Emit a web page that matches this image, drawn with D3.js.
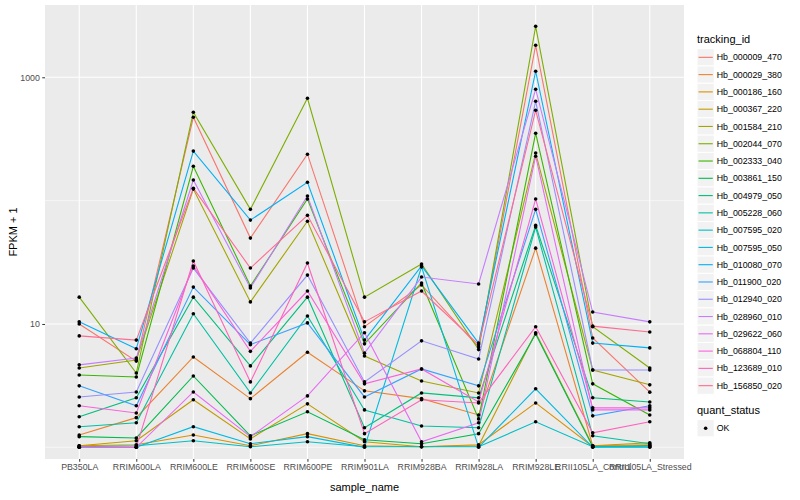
<!DOCTYPE html>
<html>
<head>
<meta charset="utf-8">
<script src="https://cdn.jsdelivr.net/npm/d3@7"></script>
<style>
  body { margin: 0; background: #ffffff; }
  text { font-family: "Liberation Sans", Arial, Helvetica, sans-serif; }
</style>
</head>
<body>
<svg></svg>
<script>
// categories on the x axis
var samples = ["PB350LA", "RRIM600LA", "RRIM600LE", "RRIM600SE", "RRIM600PE",
  "RRIM901LA", "RRIM928BA", "RRIM928LA", "RRIM928LE", "RRII105LA_Control", "RRII105LA_Stressed"];

var trackingIds = ["Hb_000009_470", "Hb_000029_380", "Hb_000186_160", "Hb_000367_220",
  "Hb_001584_210", "Hb_002044_070", "Hb_002333_040", "Hb_003861_150", "Hb_004979_050",
  "Hb_005228_060", "Hb_007595_020", "Hb_007595_050", "Hb_010080_070", "Hb_011900_020",
  "Hb_012940_020", "Hb_028960_010", "Hb_029622_060", "Hb_068804_110", "Hb_123689_010",
  "Hb_156850_020"];

// FPKM + 1, one value per sample
var hb000009_470 = [10, 5.0, 474, 49.7, 238, 9.5, 20.7, 6.5, 1816, 7.7, 2.8];
var hb000029_380 = [1.26, 1.74, 5.4, 2.48, 5.9, 2.87, 2.48, 1.83, 41.2, 1.03, 1.05];
var hb000186_160 = [1.03, 1.05, 1.26, 1.03, 1.29, 1.03, 1.01, 1.05, 2.29, 1.01, 1.03];
var hb000367_220 = [1.03, 1.13, 2.43, 1.17, 2.25, 1.11, 1.01, 1.03, 8.5, 1.03, 1.09];
var hb001584_210 = [4.4, 5.1, 124, 15.1, 68, 5.5, 3.45, 2.76, 243, 4.24, 3.21];
var hb002044_070 = [16.5, 4.0, 521, 85, 676, 16.5, 30.6, 6.2, 2588, 9.5, 4.4];
var hb002333_040 = [3.86, 3.72, 190, 20.3, 103, 6.9, 21.5, 1.70, 352, 3.27, 1.83];
var hb003861_150 = [1.22, 1.19, 3.79, 1.24, 1.94, 1.15, 1.07, 1.29, 8.3, 1.01, 1.03];
var hb004979_050 = [1.77, 2.52, 16.5, 4.57, 16.5, 1.44, 2.76, 2.52, 63, 2.52, 2.33];
var hb005228_060 = [1.47, 1.58, 12.1, 2.76, 11.6, 2.01, 1.49, 1.44, 61, 1.24, 1.07];
var hb007595_020 = [1.01, 1.03, 1.13, 1.01, 1.11, 1.01, 1.01, 1.01, 1.61, 1.01, 1.01];
var hb007595_050 = [1.0, 1.0, 1.47, 1.07, 1.22, 1.0, 29, 1.0, 2.98, 1.0, 1.0];
var hb010080_070 = [10.4, 6.3, 252, 69.5, 141, 7.4, 29.5, 7.0, 1119, 7.0, 6.4];
var hb011900_020 = [3.15, 2.17, 19.9, 6.8, 10.2, 2.56, 4.32, 3.15, 85, 1.80, 2.17];
var hb012940_020 = [2.56, 2.81, 28.4, 7.0, 24.9, 3.39, 7.3, 5.2, 639, 4.24, 4.24];
var hb028960_010 = [4.66, 5.3, 147, 19.6, 109, 5.8, 24, 21.1, 800, 12.5, 10.4];
var hb029622_060 = [1.0, 1.0, 2.81, 1.22, 2.61, 8.5, 1.11, 1.58, 229, 2.01, 2.01];
var hb068804_110 = [2.17, 1.90, 29.5, 6.0, 18.5, 3.27, 4.32, 2.33, 103, 2.09, 2.09];
var hb123689_010 = [1.0, 1.0, 32.4, 3.39, 31.2, 1.29, 2.43, 2.29, 9.5, 1.31, 1.61];
var hb156850_020 = [8.0, 7.4, 126, 28.4, 76, 10.4, 18.5, 6.8, 540, 9.6, 8.6];

var seriesValues = [hb000009_470, hb000029_380, hb000186_160, hb000367_220, hb001584_210,
  hb002044_070, hb002333_040, hb003861_150, hb004979_050, hb005228_060, hb007595_020,
  hb007595_050, hb010080_070, hb011900_020, hb012940_020, hb028960_010, hb029622_060,
  hb068804_110, hb123689_010, hb156850_020];

var yTicks = [10, 1000];
var yMinorTicks = [1, 100];
var quantStatus = ["OK"];

// ggplot default hue palette for 20 groups
var hueColours = ["#F8766D", "#EA8331", "#D89000", "#C09B00", "#A3A500", "#7CAE00", "#39B600",
  "#00BB4E", "#00BF7D", "#00C1A3", "#00BFC4", "#00BAE0", "#00B0F6", "#35A2FF", "#9590FF",
  "#C77CFF", "#E76BF3", "#FA62DB", "#FF62BC", "#FF6C91"];

var screen = { width: 800, height: 500 };
var panel = { left: 45, right: 684, top: 5, bottom: 459 };

var svg = d3.select("svg").attr("width", screen.width).attr("height", screen.height);

var xScale = d3.scalePoint().domain(samples).range([panel.left, panel.right]).padding(0.6);
var yScale = d3.scaleLog().domain([0.804, 3855]).range([panel.bottom, panel.top]);
var colourScale = d3.scaleOrdinal().domain(trackingIds).range(hueColours);

// panel background and grid
svg.append("rect")
  .attr("x", panel.left).attr("y", panel.top)
  .attr("width", panel.right - panel.left).attr("height", panel.bottom - panel.top)
  .attr("fill", "#EBEBEB");

var grid = svg.append("g").attr("class", "grid").attr("stroke", "#ffffff");
grid.selectAll("line.minor").data(yMinorTicks).enter().append("line")
  .attr("class", "minor")
  .attr("x1", panel.left).attr("x2", panel.right)
  .attr("y1", function (d) { return yScale(d); })
  .attr("y2", function (d) { return yScale(d); })
  .attr("stroke-width", 0.55);
grid.selectAll("line.majory").data(yTicks).enter().append("line")
  .attr("class", "majory")
  .attr("x1", panel.left).attr("x2", panel.right)
  .attr("y1", function (d) { return yScale(d); })
  .attr("y2", function (d) { return yScale(d); })
  .attr("stroke-width", 1.1);
grid.selectAll("line.majorx").data(samples).enter().append("line")
  .attr("class", "majorx")
  .attr("y1", panel.top).attr("y2", panel.bottom)
  .attr("x1", function (d) { return xScale(d); })
  .attr("x2", function (d) { return xScale(d); })
  .attr("stroke-width", 1.1);

// lines, one per tracking id
var line = d3.line()
  .x(function (d, i) { return xScale(samples[i]); })
  .y(function (d) { return yScale(d); });

svg.append("g").attr("class", "lines")
  .selectAll("path").data(seriesValues).enter().append("path")
  .attr("d", line)
  .attr("fill", "none")
  .attr("stroke", function (d, i) { return colourScale(trackingIds[i]); })
  .attr("stroke-width", 1.1);

// black points on top
var points = [];
seriesValues.forEach(function (vals) {
  vals.forEach(function (v, i) { points.push({ sample: samples[i], value: v }); });
});
svg.append("g").attr("class", "points")
  .selectAll("circle").data(points).enter().append("circle")
  .attr("cx", function (d) { return xScale(d.sample); })
  .attr("cy", function (d) { return yScale(d.value); })
  .attr("r", 1.8)
  .attr("fill", "#000000");

// axes
var styleAxis = function (g) {
  g.select(".domain").remove();
  g.selectAll(".tick line").attr("stroke", "#333333").attr("stroke-width", 1);
  g.selectAll(".tick text").attr("fill", "#4D4D4D").style("font-size", "8.8px")
    .style("font-family", "'Liberation Sans', Arial, sans-serif");
};

svg.append("g")
  .attr("transform", "translate(0," + panel.bottom + ")")
  .call(d3.axisBottom(xScale).tickSize(2.75).tickPadding(2.4))
  .call(styleAxis);

svg.append("g")
  .attr("transform", "translate(" + panel.left + ",0)")
  .call(d3.axisLeft(yScale).tickValues(yTicks).tickSize(2.75).tickPadding(2.4)
    .tickFormat(d3.format("d")))
  .call(styleAxis);

// axis titles
svg.append("text")
  .attr("x", (panel.left + panel.right) / 2).attr("y", 491)
  .attr("text-anchor", "middle").style("font-size", "11px")
  .text("sample_name");

svg.append("text")
  .attr("transform", "translate(17," + (panel.top + panel.bottom) / 2 + ") rotate(-90)")
  .attr("text-anchor", "middle").style("font-size", "11px")
  .text("FPKM + 1");

// legend: tracking_id
var keySize = 17.28;
var legendX = 697;
var legend = svg.append("g").attr("class", "legend");
legend.append("text").attr("x", legendX).attr("y", 42.5)
  .style("font-size", "11px").text("tracking_id");

var entries = legend.selectAll("g.entry").data(trackingIds).enter().append("g")
  .attr("class", "entry")
  .attr("transform", function (d, i) { return "translate(" + legendX + "," + (48.7 + i * keySize) + ")"; });
entries.append("rect").attr("width", keySize).attr("height", keySize)
  .attr("fill", "#F2F2F2").attr("stroke", "#ffffff").attr("stroke-width", 1);
entries.append("line")
  .attr("x1", 1.5).attr("x2", keySize - 1.5)
  .attr("y1", keySize / 2).attr("y2", keySize / 2)
  .attr("stroke", function (d) { return colourScale(d); })
  .attr("stroke-width", 1.1);
entries.append("text").attr("x", keySize + 2.5).attr("y", keySize / 2 + 3.1)
  .style("font-size", "8.8px").attr("fill", "#000000")
  .text(function (d) { return d; });

// legend: quant_status
var legend2 = svg.append("g").attr("class", "legend");
legend2.append("text").attr("x", legendX).attr("y", 414)
  .style("font-size", "11px").text("quant_status");
var qEntries = legend2.selectAll("g.entry").data(quantStatus).enter().append("g")
  .attr("class", "entry")
  .attr("transform", function (d, i) { return "translate(" + legendX + "," + (419.6 + i * keySize) + ")"; });
qEntries.append("rect").attr("width", keySize).attr("height", keySize)
  .attr("fill", "#F2F2F2").attr("stroke", "#ffffff").attr("stroke-width", 1);
qEntries.append("circle").attr("cx", keySize / 2).attr("cy", keySize / 2).attr("r", 1.8)
  .attr("fill", "#000000");
qEntries.append("text").attr("x", keySize + 2.5).attr("y", keySize / 2 + 3.1)
  .style("font-size", "8.8px").text(function (d) { return d; });
</script>
</body>
</html>
